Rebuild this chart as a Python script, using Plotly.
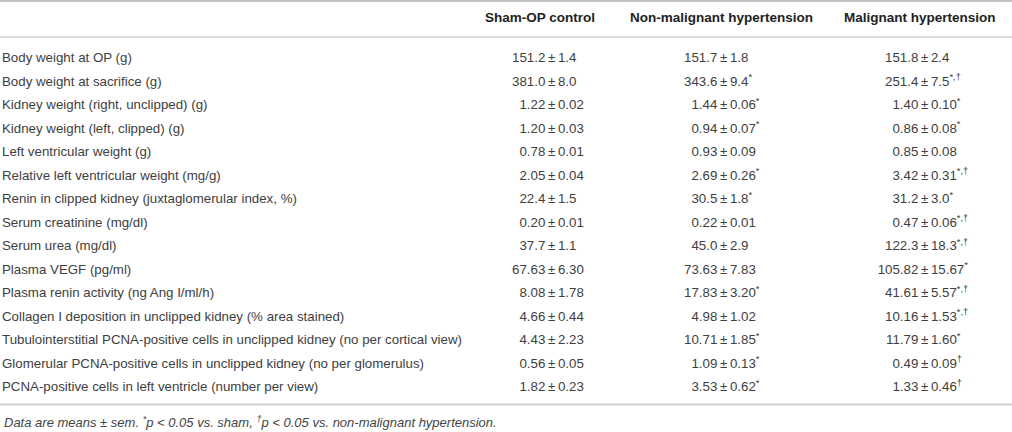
"""Table 1 style figure: physiological parameters in sham / non-malignant / malignant hypertension."""
import plotly.graph_objects as go

W, H = 1012, 432

# --- data ---------------------------------------------------------------
measures = [
    "Body weight at OP (g)",
    "Body weight at sacrifice (g)",
    "Kidney weight (right, unclipped) (g)",
    "Kidney weight (left, clipped) (g)",
    "Left ventricular weight (g)",
    "Relative left ventricular weight (mg/g)",
    "Renin in clipped kidney (juxtaglomerular index, %)",
    "Serum creatinine (mg/dl)",
    "Serum urea (mg/dl)",
    "Plasma VEGF (pg/ml)",
    "Plasma renin activity (ng Ang I/ml/h)",
    "Collagen I deposition in unclipped kidney (% area stained)",
    "Tubulointerstitial PCNA-positive cells in unclipped kidney (no per cortical view)",
    "Glomerular PCNA-positive cells in unclipped kidney (no per glomerulus)",
    "PCNA-positive cells in left ventricle (number per view)",
]
groups = ["Sham-OP control", "Non-malignant hypertension", "Malignant hypertension"]

sham_mean = ["151.2", "381.0", "1.22", "1.20", "0.78", "2.05", "22.4", "0.20", "37.7",
             "67.63", "8.08", "4.66", "4.43", "0.56", "1.82"]
sham_sem = ["1.4", "8.0", "0.02", "0.03", "0.01", "0.04", "1.5", "0.01", "1.1",
            "6.30", "1.78", "0.44", "2.23", "0.05", "0.23"]
sham_sig = [""] * 15

nonmal_mean = ["151.7", "343.6", "1.44", "0.94", "0.93", "2.69", "30.5", "0.22", "45.0",
               "73.63", "17.83", "4.98", "10.71", "1.09", "3.53"]
nonmal_sem = ["1.8", "9.4", "0.06", "0.07", "0.09", "0.26", "1.8", "0.01", "2.9",
              "7.83", "3.20", "1.02", "1.85", "0.13", "0.62"]
nonmal_sig = ["", "*", "*", "*", "", "*", "*", "", "", "", "*", "", "*", "*", "*"]

mal_mean = ["151.8", "251.4", "1.40", "0.86", "0.85", "3.42", "31.2", "0.47", "122.3",
            "105.82", "41.61", "10.16", "11.79", "0.49", "1.33"]
mal_sem = ["2.4", "7.5", "0.10", "0.08", "0.08", "0.31", "3.0", "0.06", "18.3",
           "15.67", "5.57", "1.53", "1.60", "0.09", "0.46"]
mal_sig = ["", "*,†", "*", "*", "", "*,†", "*", "*,†", "*,†", "*", "*,†", "*,†", "*", "†", "†"]

footnote = ("<i>Data are means ± sem. <sup>*</sup>p &lt; 0.05 vs. sham, "
            "<sup>†</sup>p &lt; 0.05 vs. non-malignant hypertension.</i>")

# --- layout constants (pixels) -----------------------------------------
FONT = "Liberation Sans"
INK = "#404040"
ROW0_PX, ROW_PX = 59, 23.5           # centre of first row, row pitch
LABEL_X = 2
PM_X = [548, 720, 921]               # x of the ± sign per value column
HEAD_X = [540, 721, 920]
THIN = "\u2009"

rows = list(range(len(measures)))
fig = go.Figure()

fig.add_trace(go.Scatter(x=[LABEL_X] * len(rows), y=rows, text=measures, mode="text",
                         textposition="middle right",
                         textfont=dict(family=FONT, size=13.3, color=INK),
                         hoverinfo="skip"))

columns = [(sham_mean, sham_sem, sham_sig), (nonmal_mean, nonmal_sem, nonmal_sig),
           (mal_mean, mal_sem, mal_sig)]
for (mean, sem, sig), px in zip(columns, PM_X):
    left = [m + THIN for m in mean]
    fig.add_trace(go.Scatter(x=[px] * len(rows), y=rows, text=left, mode="text",
                             textposition="middle left",
                             textfont=dict(family=FONT, size=13.3, color=INK),
                             hoverinfo="skip"))
    right = ["±" + THIN + e + ("<sup>" + s + "</sup>" if s else "") for e, s in zip(sem, sig)]
    fig.add_trace(go.Scatter(x=[px] * len(rows), y=rows, text=right, mode="text",
                             textposition="middle right",
                             textfont=dict(family=FONT, size=13.3, color=INK),
                             hoverinfo="skip"))

for g, hx in zip(groups, HEAD_X):
    fig.add_annotation(x=hx, y=1 - 17 / H, xref="x", yref="paper", text="<b>" + g + "</b>",
                       showarrow=False, xanchor="center", yanchor="middle",
                       font=dict(family=FONT, size=13.5, color="#222222"))

fig.add_annotation(x=LABEL_X, y=1 - 422 / H, xref="x", yref="paper", text=footnote,
                   showarrow=False, xanchor="left", yanchor="middle",
                   font=dict(family=FONT, size=13, color="#444444"))

# rules: top, under header, bottom
for ypx, col, wd in [(1, "#b0b0b0", 1.5), (37, "#dcdcdc", 2), (404.5, "#d0d0d0", 2)]:
    fig.add_shape(type="line", xref="paper", yref="paper", x0=0, x1=1,
                  y0=1 - ypx / H, y1=1 - ypx / H, line=dict(color=col, width=wd))

top = -ROW0_PX / ROW_PX
bottom = (H - ROW0_PX) / ROW_PX
fig.update_xaxes(range=[0, W], visible=False, fixedrange=True)
fig.update_yaxes(range=[bottom, top], visible=False, fixedrange=True)
fig.update_layout(width=W, height=H, margin=dict(l=0, r=0, t=0, b=0),
                  paper_bgcolor="white", plot_bgcolor="white", showlegend=False)

# the page's default 8px body margin would push the table off the window
fig.write_html("out.html", config=dict(displayModeBar=False),
               post_script="document.body.style.margin='0';")
